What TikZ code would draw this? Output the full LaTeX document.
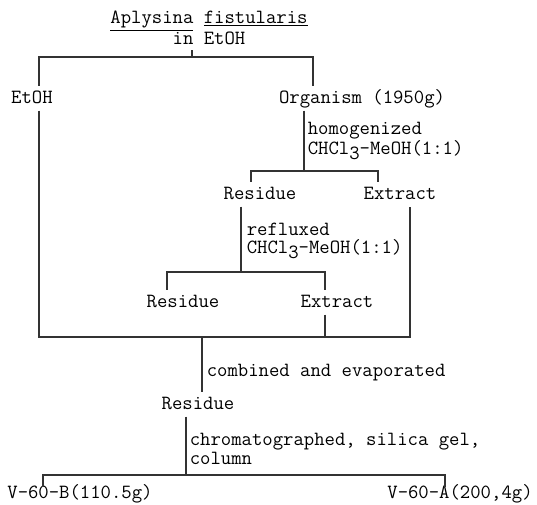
\documentclass[tikz,border=0pt]{standalone}
\usepackage{fontspec}
\usetikzlibrary{calc}
\tikzset{%
  mono/.style={font=\ttfamily\fontsize{13.7}{10.8}\selectfont},
  txt/.style={mono,inner xsep=1pt,inner ysep=3pt,text height=8.5pt,text depth=2pt,anchor=base},
  note/.style={font=\ttfamily\fontsize{13.7}{12.5}\selectfont,inner sep=1pt,align=left,anchor=west},
  link/.style={draw=black!80,line width=0.7pt},
}
\newcommand{\SubThree}{\raisebox{-3.5pt}{3}}
\newcommand{\FlowPoints}{
  \coordinate (J1) at (192,57);% sample split
  \coordinate (J2) at (304,171);% after homogenizing
  \coordinate (J3) at (241,272);% after reflux
  \coordinate (J4) at (202,337);% combined extracts
  \coordinate (J5) at (186,475);% column fractions
}

\begin{document}
\begin{tikzpicture}[x=0.68pt,y=-0.68pt]
  \useasboundingbox (0,0) rectangle (537,504);
  \FlowPoints% makes junctions available
  % sample
  \node[mono,align=center] (src) at (209,28) {\underline{Aplysina} \underline{fistularis}\\in EtOH};
  \node[txt] (etoh) at (32,103) {EtOH};
  \node[txt] (org) at (362,103) {Organism (1950g)};
  \draw[link] (src.south -| J1) -- (J1);
  \draw[link] ($(etoh.north)+(7,0)$) |- (J1) -| ($(org.north)+(-49,0)$);
  % homogenized
  \node[txt] (res1) at (260,199) {Residue};
  \node[txt] (ext1) at (400,199) {Extract};
  \draw[link] (org.south -| J2) -- (J2);
  \draw[link] ($(res1.north)+(-9,0)$) |- (J2) -| ($(ext1.north)+(-22,0)$);
  \node[note] (homog) at (306,141) {homogenized\\CHCl\SubThree-MeOH(1:1)};
  % refluxed
  \node[txt] (res2) at (183,307) {Residue};
  \node[txt] (ext2) at (337,307) {Extract};
  \draw[link] (res1.south -| J3) -- (J3);
  \draw[link] ($(res2.north)+(-16,0)$) |- (J3) -| ($(ext2.north)+(-12,0)$);
  \node[note] (reflux) at (245,241) {refluxed\\CHCl\SubThree-MeOH(1:1)};
  % combined
  \node[txt] (res3) at (198,409) {Residue};
  \coordinate (E2) at ($(ext2.south)+(-12,0)$);
  \draw[link] ($(etoh.south)+(7,0)$) |- (J4) -| ($(ext1.south)+(10,0)$);
  \draw[link] (E2) -- (E2 |- J4);
  \draw[link] (J4) -- (J4 |- res3.north);
  \node[note] (comb) at (205,373) {combined and evaporated};
  % column
  \node[txt] (fracB) at (80,498) {V-60-B(110.5g)};
  \node[txt] (fracA) at (460,498) {V-60-A(200,4g)};
  \draw[link] (res3.south -| J5) -- (J5);
  \draw[link] ($(fracB.north)+(-37,6)$) |- (J5) -| ($(fracA.north)+(-15,6)$);
  \node[note] (chrom) at (188,449) {chromatographed, silica gel,\\column};
\end{tikzpicture}
\end{document}
